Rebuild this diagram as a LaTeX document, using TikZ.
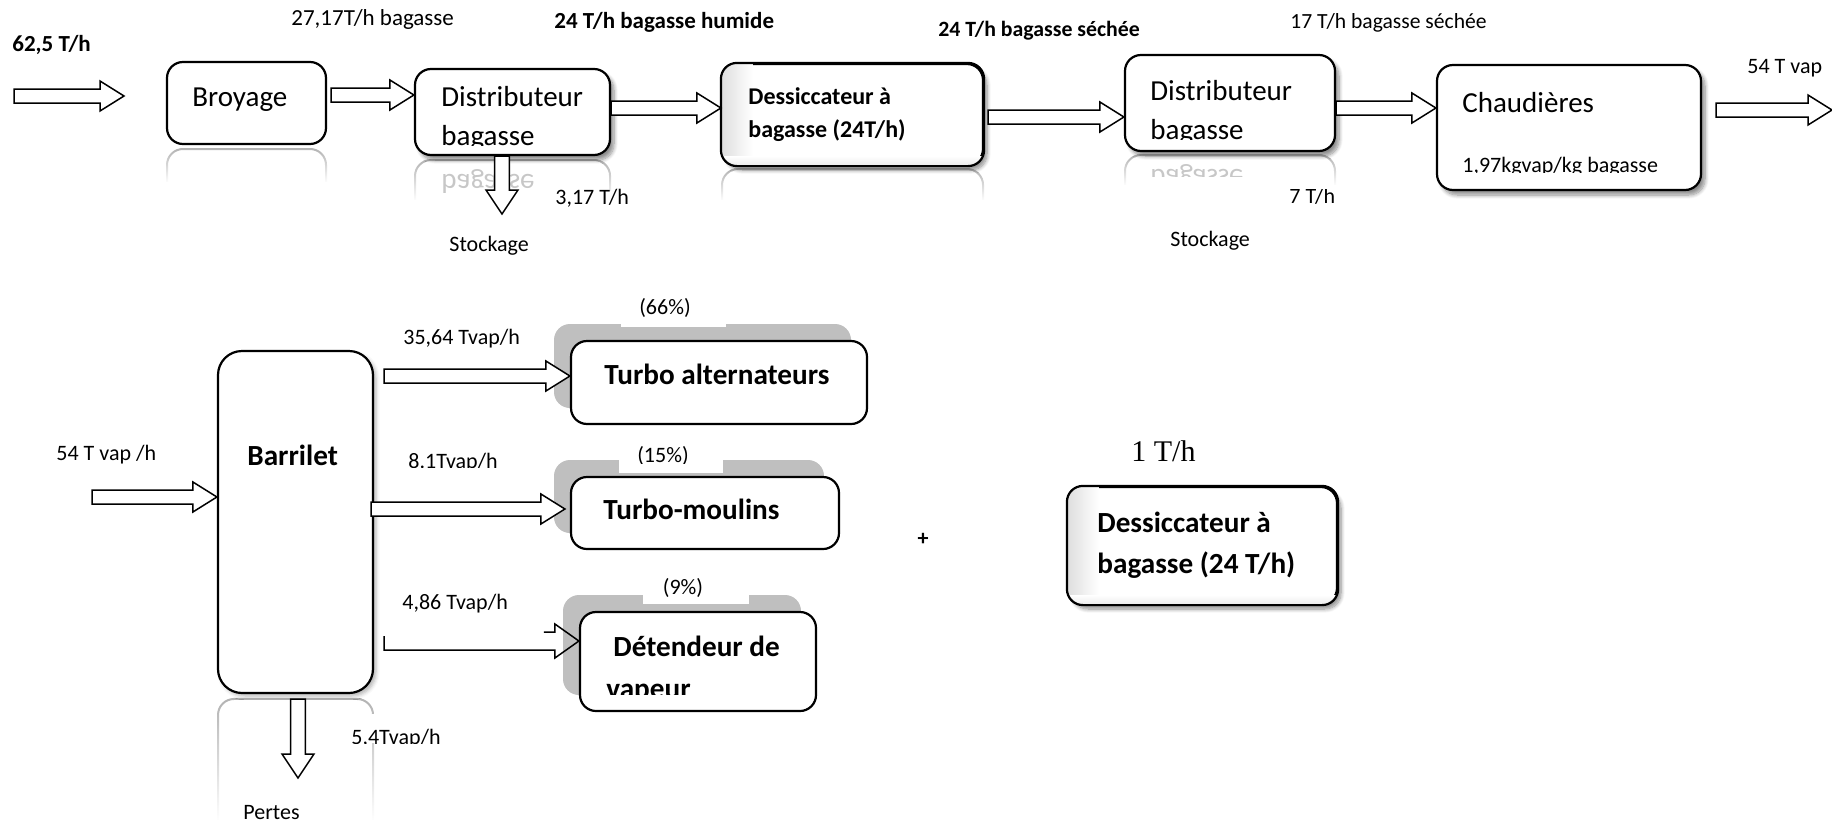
\documentclass[tikz,border=0pt]{standalone}
\usepackage{fontspec}
\setmainfont{Carlito}
\newfontfamily\timesfont{Liberation Serif}
\usetikzlibrary{fit,calc,fadings,shadows.blur}

\tikzset{
  box/.style={draw=black, line width=1.1pt, rounded corners=8pt, fill=white, inner sep=0pt},
  shade box/.style={box, blur shadow={shadow xshift=2pt, shadow yshift=-2.5pt, shadow blur steps=8, shadow opacity=45}},
  backplate/.style={fill=black!25, rounded corners=8pt},
  gap/.style={fill=white, inner sep=0pt},
  blockarrow/.style={draw=black, fill=white, line width=0.75pt, line join=miter},
  txt/.style={anchor=west, inner sep=0pt, text height=1.4ex, text depth=0pt},
  lbl/.style={txt, font=\fontsize{11pt}{13pt}\selectfont},
  blbl/.style={txt, font=\fontsize{11.5pt}{13pt}\selectfont\bfseries},
  boxtxt/.style={txt, font=\fontsize{14.5pt}{16pt}\selectfont},
  boxbold/.style={txt, font=\fontsize{14.6pt}{16pt}\selectfont\bfseries},
  midbold/.style={txt, font=\fontsize{12pt}{14pt}\selectfont\bfseries},
  mirrortxt/.style={boxtxt, text=black!22, transform shape},
  reflect/.style={draw=black!30, line width=1pt, rounded corners=8pt, path fading=south},
  gloss/.style={left color=black!13, right color=white},
}

% horizontal block arrow: start, tip, y level
\newcommand\harrow[3]{%
  \draw[blockarrow] let \p1=#1, \p2=#2, \p3=(0,#3) in
    (\x1,\y3+3.5pt) -- (\x2-12pt,\y3+3.5pt) -- (\x2-12pt,\y3+7.5pt) -- (\x2,\y3)
    -- (\x2-12pt,\y3-7.5pt) -- (\x2-12pt,\y3-3.5pt) -- (\x1,\y3-3.5pt) -- cycle;}
% vertical block arrow: start, tip, x position
\newcommand\varrow[3]{%
  \draw[blockarrow] let \p1=#1, \p2=#2, \p3=(#3,0) in
    (\x3-3.7pt,\y1) -- (\x3-3.7pt,\y2+12pt) -- (\x3-8pt,\y2+12pt) -- (\x3,\y2)
    -- (\x3+8pt,\y2+12pt) -- (\x3+3.7pt,\y2+12pt) -- (\x3+3.7pt,\y1) -- cycle;}

\begin{document}
\begin{tikzpicture}[x=0.5pt, y=-0.5pt]
\useasboundingbox (0,0) rectangle (1832,825);

% ---------- reflections under the upper boxes
\draw[reflect] (167,182) |- (326,149) -- (326,182);
\draw[reflect] (415,200) |- (610,160) -- (610,200);
\draw[reflect] (722,200) |- (983,169) -- (983,200);
\draw[reflect] (1125,185) |- (1335,155) -- (1335,185);
\begin{scope}
  \clip (420,166) rectangle (605,192);
  \begin{scope}[shift={(441,181)}, yscale=-1]
    \node[mirrortxt] at (0,0) {bagasse};
  \end{scope}
\end{scope}
\begin{scope}
  \clip (1130,158) rectangle (1330,176);
  \begin{scope}[shift={(1150,176)}, yscale=-1]
    \node[mirrortxt] at (0,0) {bagasse};
  \end{scope}
\end{scope}
% reflection under the drum
\draw[reflect] (218,820) |- (373,699) -- (373,820);

% ---------- upper chain
\node[box, fit={(167,62)(326,144)}] (broy) {};
\node[shade box, fit={(415,69)(610,155)}] (dist1) {};
\node[shade box, fit={(722,64)(983,165)}] (dess1) {};
\node[shade box, fit={(1125,55)(1335,151)}] (dist2) {};
\node[shade box, fit={(1437,65)(1701,190)}] (chaud) {};

% glossy left edge of the dryer
\begin{scope}
  \clip[rounded corners=8pt] (dess1.north west) rectangle (dess1.south east);
  \shade[gloss] (dess1.north west) rectangle ([xshift=16pt]dess1.south west);
  \shade[top color=white, bottom color=black!8] ([yshift=5pt]dess1.south west) rectangle (dess1.south east);
\end{scope}
\draw[line width=1.1pt, rounded corners=8pt] (dess1.north west) rectangle (dess1.south east);

\node[boxtxt] (tbroy) at (192,100) {Broyage};
\node[boxtxt] (tdista) at (441,100) {Distributeur};
\begin{scope}
  \clip (415,69) rectangle (610,145);
  \node[boxtxt] (tdistb) at (441,139) {bagasse};
\end{scope}
\node[midbold] (tdessa) at (748,98) {Dessiccateur à};
\node[midbold] (tdessb) at (748,131) {bagasse (24T/h)};
\node[boxtxt] (tdist2a) at (1150,94) {Distributeur};
\begin{scope}
  \clip (1125,55) rectangle (1335,139);
  \node[boxtxt] (tdist2b) at (1150,133) {bagasse};
\end{scope}
\node[boxtxt] (tchaud) at (1462,106) {Chaudières};
\begin{scope}
  \clip (1437,65) rectangle (1701,172);
  \node[lbl] (tratio) at (1462,166) {1,97kgvap/kg bagasse};
\end{scope}

% free ends of the outer arrows
\coordinate (in1) at (14,96);
\coordinate (in1t) at (124,96);
\coordinate (out1) at (1716,110);
\coordinate (out1t) at (1832,110);
\coordinate (d1tip) at (502,214);

\harrow{(in1)}{(in1t)}{96}
\harrow{([xshift=2pt]broy.east)}{(dist1.west)}{95}
\harrow{(dist1.east)}{(dess1.west)}{108}
\harrow{([xshift=2pt]dess1.east)}{(dist2.west)}{117}
\harrow{(dist2.east)}{(chaud.west)}{108}
\harrow{(out1)}{(out1t)}{110}
\varrow{(dist1.south)}{(d1tip)}{502}

% labels of the upper chain
\node[blbl] (l625) at (12,45) {62,5 T/h};
\node[lbl, font=\fontsize{11.5pt}{13pt}\selectfont] (l2717) at (291,19) {27,17T/h bagasse};
\node[blbl] (lhum) at (554,22) {24 T/h bagasse humide};
\node[lbl, fill=white] (l317) at (555,198) {3,17 T/h};
\node[lbl] (lstock1) at (449,245) {Stockage};
\node[blbl, font=\fontsize{10.9pt}{13pt}\selectfont\bfseries] (lsech) at (938,30) {24 T/h bagasse séchée};
\node[lbl, font=\fontsize{10.8pt}{13pt}\selectfont] (l17) at (1290,22) {17 T/h bagasse séchée};
\begin{scope}
  \clip (1280,189) rectangle (1360,215);
  \node[lbl] (l7) at (1289,197) {7 T/h};
\end{scope}
\node[lbl] (lstock2) at (1170,240) {Stockage};
\node[lbl] (l54a) at (1747,67) {54 T vap};

% ---------- steam distribution
\fill[backplate] (554,324) rectangle (851,408);
\fill[backplate] (554,460) rectangle (824,533);
\fill[backplate] (563,595) rectangle (801,695);
\node[gap, fit={(621,300)(726,327)}] (g66) {};
\node[gap, fit={(619,440)(723,473)}] (g15) {};
\node[gap, fit={(643,575)(749,604)}] (g9) {};

\node[box, rounded corners=12pt, blur shadow={shadow xshift=1.5pt, shadow yshift=-1.5pt, shadow opacity=30}, fit={(218,351)(373,693)}] (barr) {};
\node[box, fit={(571,341)(867,424)}] (ta) {};
\node[box, fit={(571,477)(839,549)}] (tm) {};
\node[box, fit={(580,612)(816,711)}] (det) {};

\node[boxbold] (tbarr) at (247,459) {Barrilet};
\node[boxbold] (tta) at (604,378) {Turbo alternateurs};
\node[boxbold] (ttm) at (603,513) {Turbo-moulins};
\node[boxbold] (tdeta) at (613,650) {Détendeur de};
\begin{scope}
  \clip (580,612) rectangle (816,694);
  \node[boxbold] (tdetb) at (606,692) {vapeur};
\end{scope}

\node[lbl, anchor=center] (p66) at (665,308) {(66\%)};
\begin{scope}
  \clip (600,430) rectangle (740,463);
  \node[lbl, anchor=center] (p15) at (663,456) {(15\%)};
\end{scope}
\node[lbl, anchor=center] (p9) at (683,588) {(9\%)};

\coordinate (bin) at (92,497);
\coordinate (d2tip) at (298,778);
\harrow{(bin)}{(barr.west)}{497}
\harrow{([xshift=5pt]barr.east)}{(ta.west)}{376}
\harrow{([xshift=-1.5pt]barr.east)}{([xshift=-2.5pt]tm.west)}{509}
% arrow towards the expander, drawn with its upper edge missing
\draw[blockarrow, fill=none] let \p1=([xshift=5pt]barr.east), \p2=(det.west), \p3=(0,641) in
  (\x1,\y3+2.5pt) -- (\x1,\y3-4.5pt) -- (\x2-12pt,\y3-4.5pt) -- (\x2-12pt,\y3-8.5pt)
  -- (\x2,\y3) -- (\x2-12pt,\y3+8.5pt) -- (\x2-12pt,\y3+4.5pt) -- (\x2-17.5pt,\y3+4.5pt);
\varrow{([yshift=-2.5pt]barr.south)}{(d2tip)}{298}

\node[lbl] (l54b) at (56,454) {54 T vap /h};
\node[lbl] (l3564) at (403,338) {35,64 Tvap/h};
\begin{scope}
  \clip (390,440) rectangle (540,467);
  \node[lbl] (l81) at (408,462) {8.1Tvap/h};
\end{scope}
\node[lbl] (l486) at (402,603) {4,86 Tvap/h};
\begin{scope}
  \clip (345,714) rectangle (445,743);
  \fill[white] (345,714) rectangle (445,743);
  \node[lbl] (l54t) at (351,738) {5,4Tvap/h};
\end{scope}
\node[lbl] (lpertes) at (243,813) {Pertes};

% ---------- second dryer
\node[shade box, fit={(1068,487)(1337,604)}] (dess2) {};
\begin{scope}
  \clip[rounded corners=8pt] (dess2.north west) rectangle (dess2.south east);
  \shade[gloss] (dess2.north west) rectangle ([xshift=16pt]dess2.south west);
  \shade[top color=white, bottom color=black!8] ([yshift=5pt]dess2.south west) rectangle (dess2.south east);
\end{scope}
\draw[line width=1.1pt, rounded corners=8pt] (dess2.north west) rectangle (dess2.south east);
\node[boxbold] (tdess2a) at (1097,526) {Dessiccateur à};
\node[boxbold] (tdess2b) at (1097,567) {bagasse (24 T/h)};
\node[txt, font=\timesfont\fontsize{15pt}{17pt}\selectfont] (l1t) at (1131,455) {1 T/h};
\node[font=\fontsize{11pt}{13pt}\selectfont\bfseries, inner sep=0pt] (plus) at (923,539) {+};
\end{tikzpicture}
\end{document}
